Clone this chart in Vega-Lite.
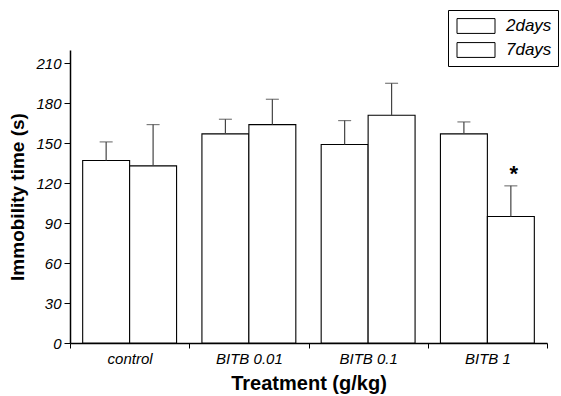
{
  "$schema": "https://vega.github.io/schema/vega-lite/v6.json",
  "width": 477,
  "height": 293,
  "autosize": {"type": "none"},
  "padding": {"left": 70, "top": 50, "right": 14, "bottom": 53},
  "background": "white",
  "config": {
    "view": {"stroke": null},
    "font": "Liberation Sans",
    "axis": {"domainColor": "black", "tickColor": "black", "labelColor": "black", "titleColor": "black", "grid": false}
  },
  "data": {
    "values": [
      {"treatment": "control", "day": "2days", "mean": 137, "upper": 151, "mark": ""},
      {"treatment": "control", "day": "7days", "mean": 133, "upper": 164, "mark": ""},
      {"treatment": "BITB 0.01", "day": "2days", "mean": 157, "upper": 168, "mark": ""},
      {"treatment": "BITB 0.01", "day": "7days", "mean": 164, "upper": 183, "mark": ""},
      {"treatment": "BITB 0.1", "day": "2days", "mean": 149, "upper": 167, "mark": ""},
      {"treatment": "BITB 0.1", "day": "7days", "mean": 171, "upper": 195, "mark": ""},
      {"treatment": "BITB 1", "day": "2days", "mean": 157, "upper": 166, "mark": ""},
      {"treatment": "BITB 1", "day": "7days", "mean": 95, "upper": 118, "mark": "*"}
    ]
  },
  "encoding": {
    "x": {
      "field": "treatment", "type": "nominal",
      "sort": ["control", "BITB 0.01", "BITB 0.1", "BITB 1"],
      "scale": {"paddingInner": 0, "paddingOuter": 0},
      "axis": {
        "title": "Treatment (g/kg)", "labelAngle": 0, "tickBand": "extent",
        "labelFontStyle": "italic", "labelFontSize": 15, "labelPadding": 3,
        "titleFontSize": 20, "titleFontWeight": "bold", "titlePadding": 7,
        "tickSize": 5, "domainWidth": 1.5
      }
    },
    "xOffset": {
      "field": "day", "type": "nominal",
      "scale": {"paddingInner": 0, "paddingOuter": 0.27}
    }
  },
  "layer": [
    {
      "mark": {"type": "bar", "stroke": "black", "strokeWidth": 1.1},
      "encoding": {
        "y": {
          "field": "mean", "type": "quantitative",
          "scale": {"domain": [0, 220], "nice": false},
          "axis": {
            "title": "Immobility time (s)",
            "values": [0, 15, 30, 45, 60, 75, 90, 105, 120, 135, 150, 165, 180, 195, 210],
            "labelExpr": "datum.value % 30 === 0 ? datum.label : ''",
            "labelFontStyle": "italic", "labelFontSize": 15,
            "titleFontSize": 19, "titleFontWeight": "bold", "titlePadding": 8,
            "tickSize": {"condition": {"test": "datum.value % 30 === 0", "value": 6}, "value": 3},
            "labelPadding": 3,
            "domainWidth": 1.5
          }
        },
        "fill": {
          "field": "day", "type": "nominal",
          "scale": {"range": ["white", "white"]},
          "legend": {
            "title": null, "orient": "none", "legendX": 378, "legendY": -40,
            "strokeColor": "black", "padding": 6, "fillColor": "white",
            "symbolType": "M-2,-0.78H2V0.78H-2Z", "symbolSize": 361,
            "symbolOffset": 12, "symbolStrokeColor": "black", "symbolStrokeWidth": 1,
            "labelFontStyle": "italic", "labelFontSize": 17, "labelOffset": 20,
            "rowPadding": 4, "labelLimit": 100
          }
        }
      }
    },
    {
      "mark": {"type": "rule", "color": "#444", "strokeWidth": 1.2},
      "encoding": {
        "y": {"field": "mean", "type": "quantitative"},
        "y2": {"field": "upper"}
      }
    },
    {
      "mark": {"type": "tick", "color": "#444", "size": 13, "thickness": 1.2},
      "encoding": {
        "y": {"field": "upper", "type": "quantitative"}
      }
    },
    {
      "mark": {"type": "text", "fontSize": 22, "fontWeight": "bold", "dy": 0, "baseline": "bottom", "dx": 3, "color": "black"},
      "encoding": {
        "y": {"field": "upper", "type": "quantitative"},
        "text": {"field": "mark"}
      }
    }
  ]
}
